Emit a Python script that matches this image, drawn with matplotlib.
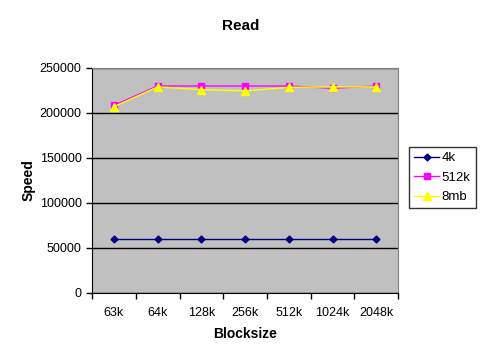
import matplotlib
matplotlib.use("Agg")
import matplotlib.pyplot as plt
import numpy as np

plt.rcParams['font.family'] = ['Liberation Sans', 'DejaVu Sans']

categories = ["63k", "64k", "128k", "256k", "512k", "1024k", "2048k"]
s_4k = [59500, 59500, 59500, 59500, 59500, 59500, 59500]
s_512k = [208500, 230000, 230000, 230000, 230000, 227500, 230000]
s_8mb = [207000, 229000, 226000, 224500, 228500, 229000, 229000]

fig = plt.figure(figsize=(4.82, 3.56), dpi=100)
ax = fig.add_axes([0.191, 0.177, 0.635, 0.632])
ax.set_facecolor('#C0C0C0')
x = np.arange(len(categories))

ax.plot(x, s_4k, color='#000080', marker='D', markersize=3.5, linewidth=1, label='4k', zorder=3)
ax.plot(x, s_512k, color='#FF00FF', marker='s', markersize=5, linewidth=1, label='512k', zorder=3)
ax.plot(x, s_8mb, color='#FFFF00', marker='^', markersize=6, linewidth=1, label='8mb', zorder=4)

ax.set_xlim(-0.5, len(categories) - 0.5)
ax.set_ylim(0, 250000)
ax.set_yticks(np.arange(0, 250001, 50000))
ax.yaxis.grid(True, color='black', linewidth=1)
ax.set_axisbelow(True)
ax.set_xticks(x)
ax.set_xticklabels(categories)
ax.set_xticks(np.arange(-0.5, len(categories), 1), minor=True)
ax.tick_params(axis='x', which='major', length=0, labelsize=9, pad=10)
ax.tick_params(axis='x', which='minor', length=4, direction='out', width=1)
ax.tick_params(axis='y', labelsize=9, length=4, width=1)
for s in ['top', 'right']:
    ax.spines[s].set_color('#808080')
for s in ['left', 'bottom']:
    ax.spines[s].set_color('black')

ax.set_xlabel('Blocksize', fontsize=10, fontweight='bold', labelpad=6)
ax.set_ylabel('Speed', fontsize=10, fontweight='bold', labelpad=3)
fig.text(0.5, 0.915, 'Read', ha='center', fontsize=11, fontweight='bold')

leg = fig.legend(loc='upper left', bbox_to_anchor=(0.848, 0.588), fontsize=9.5,
                 frameon=True, fancybox=False, edgecolor='black', handlelength=1.9,
                 borderpad=0.4, labelspacing=0.55, handletextpad=0.2, borderaxespad=0)
leg.get_frame().set_linewidth(1)

fig.savefig('out.png', dpi=100, facecolor='white')
